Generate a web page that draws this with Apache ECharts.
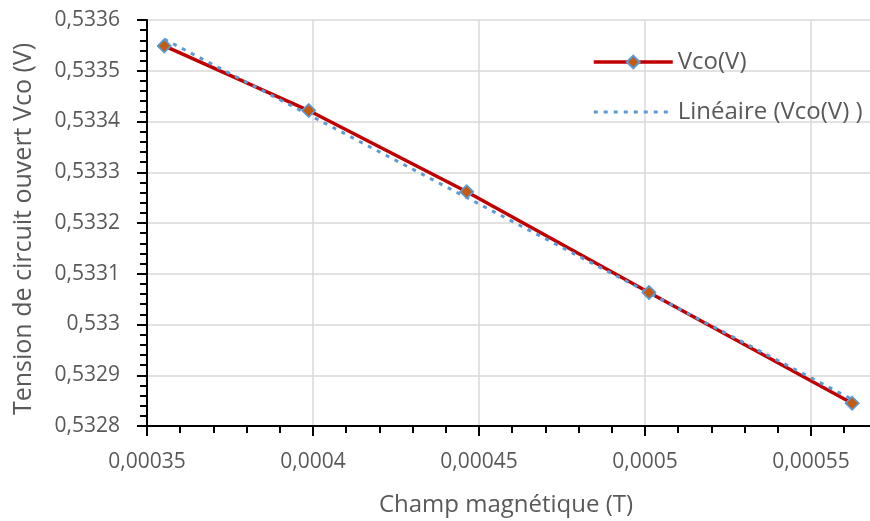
<!DOCTYPE html>
<html>
<head>
<meta charset="utf-8">
<script src="https://cdn.jsdelivr.net/npm/echarts@6/dist/echarts.min.js"></script>
<style>
  html, body { margin: 0; padding: 0; background: #fff; }
  #chart { width: 870px; height: 521px; }
</style>
</head>
<body>
<div id="chart"></div>
<script>
// Magnetic field (T) and open-circuit voltage Vco (V)
const champ = [0.0003552, 0.0003987, 0.0004463, 0.0005012, 0.0005624];
const vco = [0.533549, 0.5334216, 0.5332616, 0.533063, 0.532845];

const serieName = 'Vco(V)';
const trendName = 'Linéaire (Vco(V) )';
const xTitle = 'Champ magnétique (T)';
const yTitle = 'Tension de circuit ouvert Vco (V)';

const points = champ.map((x, i) => [x, vco[i]]);

// Least-squares linear trend over the measured points
function linearFit(xs, ys) {
  const n = xs.length;
  const mx = xs.reduce((a, b) => a + b, 0) / n;
  const my = ys.reduce((a, b) => a + b, 0) / n;
  let sxy = 0, sxx = 0;
  for (let i = 0; i < n; i++) {
    sxy += (xs[i] - mx) * (ys[i] - my);
    sxx += (xs[i] - mx) * (xs[i] - mx);
  }
  const slope = sxy / sxx;
  return x => my + slope * (x - mx);
}
const fit = linearFit(champ, vco);
const xFirst = Math.min(...champ), xLast = Math.max(...champ);
const trend = [[xFirst, fit(xFirst)], [xLast, fit(xLast)]];

const textColor = '#595959';
const font = '"Open Sans", "Noto Sans", sans-serif';
const fmt = v => String(parseFloat(v.toFixed(7))).replace('.', ',');

const chart = echarts.init(document.getElementById('chart'));
chart.setOption({
  animation: false,
  backgroundColor: '#ffffff',
  textStyle: { fontFamily: font },
  // the x axis runs on past the right edge of the canvas
  grid: { left: 147, top: 20, width: 830, bottom: 95, containLabel: false, outerBoundsMode: 'none' },
  legend: {
    orient: 'vertical',
    left: 592,
    top: 50,
    padding: 0,
    itemWidth: 79,
    itemHeight: 16,
    itemGap: 26,
    data: [
      { name: serieName, lineStyle: { width: 3.5 } },
      { name: trendName, itemStyle: { opacity: 0 }, lineStyle: { width: 3 } }
    ],
    textStyle: { color: textColor, fontSize: 24, fontFamily: font, lineHeight: 24 }
  },
  xAxis: {
    type: 'value',
    min: 0.00035,
    max: 0.0006,
    interval: 0.00005,
    axisLine: { show: true, onZero: false, lineStyle: { color: '#000', width: 2 } },
    axisTick: { show: true, length: 10, lineStyle: { color: '#000', width: 2 } },
    minorTick: { show: true, splitNumber: 5, length: 7, lineStyle: { color: '#000', width: 2 } },
    splitLine: { show: true, lineStyle: { color: '#d9d9d9', width: 1.5 } },
    axisLabel: {
      color: textColor, fontSize: 21, fontFamily: font, margin: 26,
      showMaxLabel: false,
      formatter: fmt
    }
  },
  yAxis: {
    type: 'value',
    min: 0.5328,
    max: 0.5336,
    interval: 0.0001,
    axisLine: { show: true, onZero: false, lineStyle: { color: '#000', width: 2 } },
    axisTick: { show: true, length: 10, lineStyle: { color: '#000', width: 2 } },
    minorTick: { show: true, splitNumber: 5, length: 7, lineStyle: { color: '#000', width: 2 } },
    splitLine: { show: true, lineStyle: { color: '#d9d9d9', width: 1.5 } },
    axisLabel: { color: textColor, fontSize: 21, fontFamily: font, margin: 27, formatter: fmt }
  },
  graphic: [
    {
      type: 'text',
      x: 506, y: 505,
      style: {
        text: xTitle, fill: textColor, font: '24px ' + font,
        align: 'center', verticalAlign: 'middle'
      }
    },
    {
      type: 'text',
      x: 24, y: 229,
      rotation: Math.PI / 2,
      style: {
        text: yTitle, fill: textColor, font: '25px ' + font,
        align: 'center', verticalAlign: 'middle'
      }
    }
  ],
  series: [
    {
      name: serieName,
      type: 'line',
      data: points,
      z: 2,
      symbol: 'diamond',
      symbolSize: 13,
      lineStyle: { color: '#C00000', width: 3.5 },
      itemStyle: { color: '#C55A11', borderColor: '#5B9BD5', borderWidth: 1.5 }
    },
    {
      name: trendName,
      type: 'line',
      data: trend,
      z: 3,
      symbol: 'none',
      lineStyle: { color: '#5B9BD5', width: 3, type: [4, 6] },
      itemStyle: { color: '#5B9BD5' }
    },
    {
      name: serieName,
      type: 'scatter',
      data: points,
      z: 4,
      symbol: 'diamond',
      symbolSize: 13,
      itemStyle: { color: '#C55A11', borderColor: '#5B9BD5', borderWidth: 1.5, opacity: 1 }
    }
  ]
});
</script>
</body>
</html>
